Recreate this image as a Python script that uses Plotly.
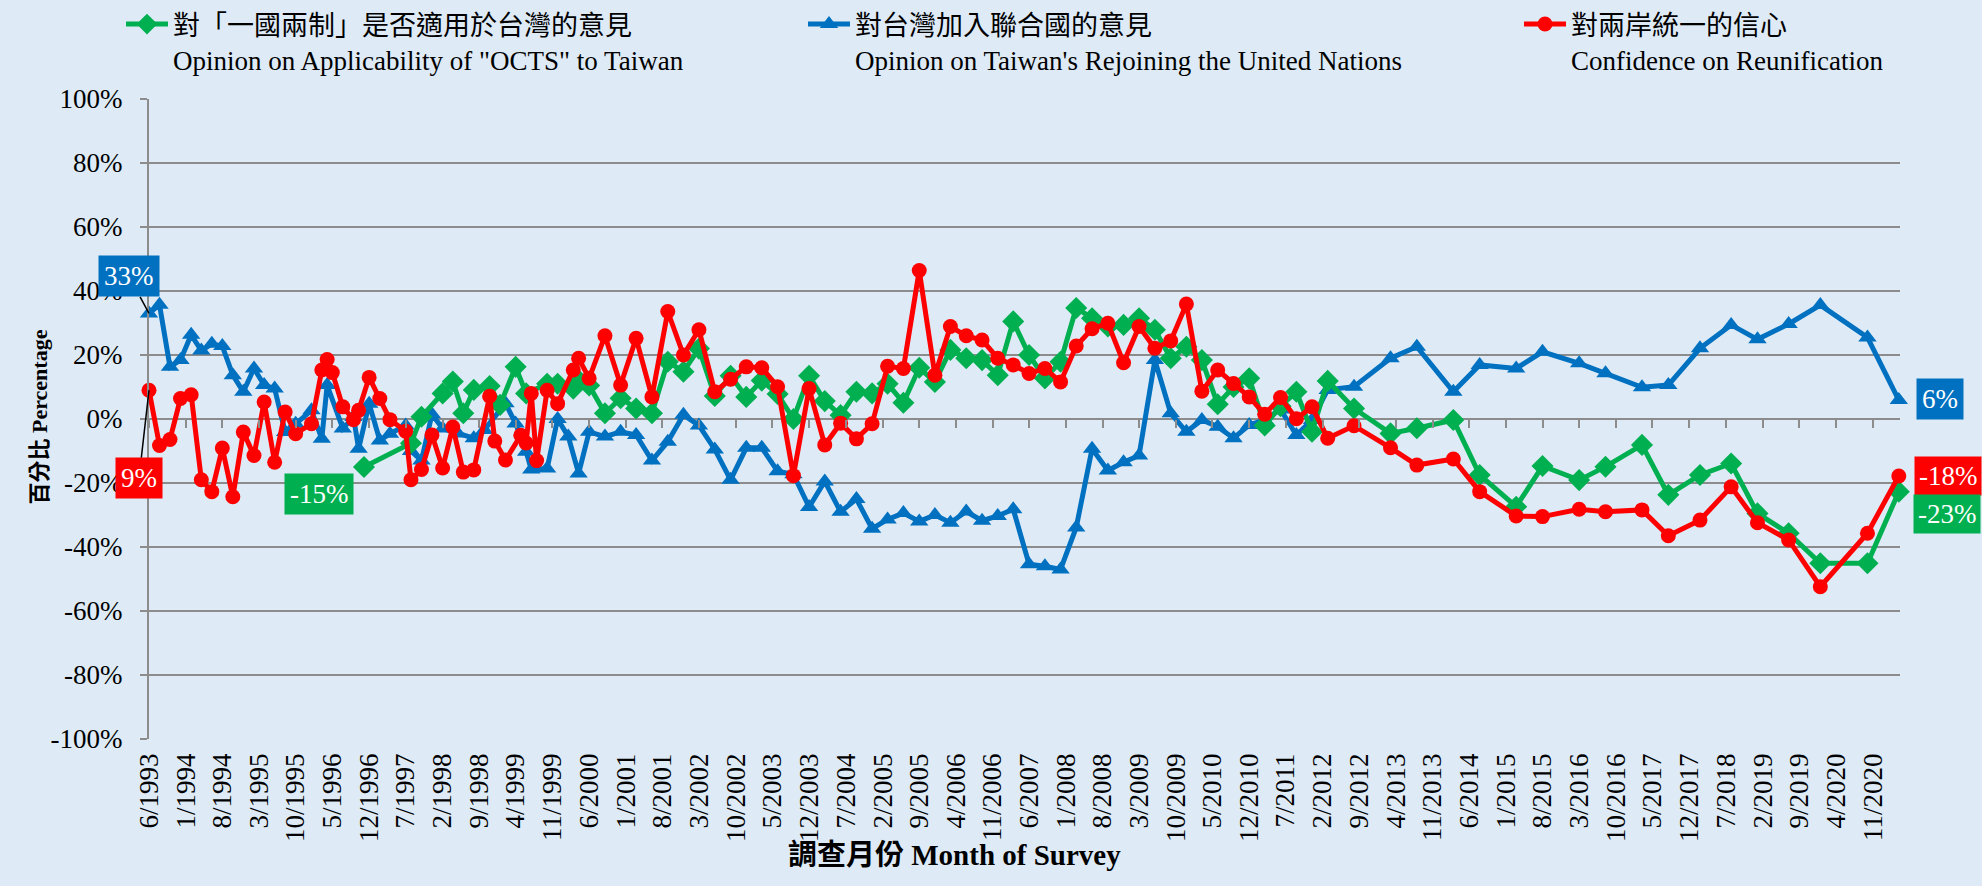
import plotly.graph_objects as go

# ---------------- data ----------------
green_dates = ["1996-11", "1997-08", "1997-10", "1998-02", "1998-04", "1998-06", "1998-08", "1998-11",
               "1999-01", "1999-04", "1999-06", "1999-10", "1999-12", "2000-03", "2000-04",
               "2000-06", "2000-09", "2000-12", "2001-03", "2001-06", "2001-09", "2001-12", "2002-03",
               "2002-06", "2002-09", "2002-12", "2003-03", "2003-06", "2003-09", "2003-12", "2004-03",
               "2004-06", "2004-09", "2004-12", "2005-03", "2005-06", "2005-09", "2005-12", "2006-03",
               "2006-06", "2006-09", "2006-12", "2007-03", "2007-06", "2007-09", "2007-12", "2008-03",
               "2008-06", "2008-09", "2008-12", "2009-03", "2009-06", "2009-09", "2009-12", "2010-03",
               "2010-06", "2010-09", "2010-12", "2011-03", "2011-06", "2011-09", "2011-12", "2012-03",
               "2012-08", "2013-03", "2013-08", "2014-03", "2014-08", "2015-03", "2015-08", "2016-03",
               "2016-08", "2017-03", "2017-08", "2018-02", "2018-08", "2019-01", "2019-07", "2020-01",
               "2020-10", "2021-04"]
green_vals = [-15, -7.6, 0.7, 8, 11.7, 1.8, 9.1, 10.3,
              4.4, 16.3, 8, 11, 11, 9.5, 12.1,
              10.5, 1.8, 6.5, 3.3, 1.8, 17.9, 14.8, 22,
              7.2, 13.5, 6.9, 12, 7.8, 0, 13.5, 5.6,
              1.2, 8.5, 8, 11, 5.1, 16, 11.6, 21.6,
              19, 18.4, 13.7, 30.5, 20, 12.7, 17.9, 34.7,
              31.5, 28.9, 29.4, 31.5, 27.9, 19, 22.6, 18.4,
              4.6, 10, 12.7, -2, 4, 8.5, -4, 11.9,
              3.3, -4.5, -2.9, -0.3, -17.5, -27.4, -14.7, -19.1,
              -14.9, -8.1, -23.7, -17.5, -13.9, -29.5, -35.7, -45.1,
              -45.1, -22.7]

blue_dates = ["1993-06", "1993-08", "1993-10", "1993-12", "1994-02", "1994-04", "1994-06", "1994-08",
              "1994-10", "1994-12", "1995-02", "1995-04", "1995-06", "1995-08", "1995-10", "1996-01",
              "1996-03", "1996-04", "1996-07", "1996-09", "1996-10", "1996-12", "1997-02", "1997-04",
              "1997-07", "1997-08", "1997-10", "1997-12", "1998-02", "1998-05", "1998-08", "1998-10",
              "1999-02", "1999-04", "1999-06", "1999-07", "1999-10", "1999-12", "2000-02",
              "2000-04", "2000-06", "2000-09", "2000-12", "2001-03", "2001-06", "2001-09", "2001-12",
              "2002-03", "2002-06", "2002-09", "2002-12", "2003-03", "2003-06", "2003-09", "2003-12",
              "2004-03", "2004-06", "2004-09", "2004-12", "2005-03", "2005-06", "2005-09", "2005-12",
              "2006-03", "2006-06", "2006-09", "2006-12", "2007-03", "2007-06", "2007-09", "2007-12",
              "2008-03", "2008-06", "2008-09", "2008-12", "2009-03", "2009-06", "2009-09", "2009-12",
              "2010-03", "2010-06", "2010-09", "2010-12", "2011-03", "2011-06", "2011-09", "2011-12",
              "2012-03", "2012-08", "2013-03", "2013-08", "2014-03", "2014-08", "2015-03", "2015-08",
              "2016-03", "2016-08", "2017-03", "2017-08", "2018-02", "2018-08", "2019-01", "2019-07",
              "2020-01", "2020-10", "2021-04"]
blue_vals = [33, 35.7, 16.3, 18.4, 26.3, 21.4, 23.5, 22.8,
             13.7, 8.5, 15.8, 10.6, 9.5, -4.1, -1.5, 2.7,
             -6.2, 10.6, -3, 0.6, -9.3, 4.8, -6.7, -4.6,
             -2, -10, -13, 1.5, -3, -4.5, -6, -3.4,
             4.9, -1.4, -10.2, -15.8, -15.5, 0, -5.5,
             -17, -4, -5.5, -4, -5, -13, -7.1, 1.3,
             -2, -9.5, -19, -9, -9, -16.3, -17.3, -27.5,
             -19.5, -29, -25, -34.3, -31.4, -29.4, -32, -30,
             -32.4, -28.9, -31.8, -30.3, -28.2, -45.4, -46, -47,
             -33.9, -9.3, -16.1, -13.5, -11.4, 18.4, 1.8, -4,
             -0.3, -2.4, -6, -1.9, -0.3, 3, -5, -0.3,
             9.1, 10.1, 19, 22.6, 8.5, 16.9, 15.8, 21,
             17.4, 14.3, 9.9, 10.6, 22.1, 29.4, 24.9, 29.7,
             35.6, 25.5, 5.9]

red_dates = ["1993-06", "1993-08", "1993-10", "1993-12", "1994-02", "1994-04", "1994-06", "1994-08",
             "1994-10", "1994-12", "1995-02", "1995-04", "1995-06", "1995-08", "1995-10", "1996-01",
             "1996-03", "1996-04", "1996-05", "1996-07", "1996-09", "1996-10", "1996-12", "1997-02",
             "1997-04", "1997-07", "1997-08", "1997-10", "1997-12", "1998-02", "1998-04", "1998-06",
             "1998-08", "1998-11", "1998-12", "1999-02", "1999-05", "1999-06", "1999-07", "1999-08",
             "1999-10", "1999-12", "2000-03", "2000-04", "2000-06", "2000-09", "2000-12", "2001-03",
             "2001-06", "2001-09", "2001-12", "2002-03", "2002-06", "2002-09", "2002-12", "2003-03",
             "2003-06", "2003-09", "2003-12", "2004-03", "2004-06", "2004-09", "2004-12", "2005-03",
             "2005-06", "2005-09", "2005-12", "2006-03", "2006-06", "2006-09", "2006-12", "2007-03",
             "2007-06", "2007-09", "2007-12", "2008-03", "2008-06", "2008-09", "2008-12", "2009-03",
             "2009-06", "2009-09", "2009-12", "2010-03", "2010-06", "2010-09", "2010-12", "2011-03",
             "2011-06", "2011-09", "2011-12", "2012-03", "2012-08", "2013-03", "2013-08", "2014-03",
             "2014-08", "2015-03", "2015-08", "2016-03", "2016-08", "2017-03", "2017-08", "2018-02",
             "2018-08", "2019-01", "2019-07", "2020-01", "2020-10", "2021-04"]
red_vals = [9, -8.3, -6.4, 6.4, 7.6, -19, -22.7, -9.1,
            -24.3, -4.1, -11.4, 5.3, -13.5, 2.2, -4.6, -1.5,
            15.3, 18.6, 14.5, 3.8, -0.2, 2.7, 13, 6.4,
            -0.2, -3.8, -19, -15.8, -5, -15.3, -2.5, -16.6,
            -15.9, 7.1, -6.9, -12.8, -5.1, -7.5, 8, -13,
            9, 4.8, 15.3, 19, 12.7, 26, 10.6, 25.2,
            6.9, 33.6, 20, 27.9, 8.5, 12.4, 16.3, 16,
            10.1, -17.7, 9.5, -8.1, -1.3, -6.2, -1.5, 16.5,
            15.8, 46.4, 13.7, 28.9, 26, 24.7, 19, 16.9,
            14.2, 15.8, 11.6, 22.8, 28.2, 29.9, 17.6, 28.9,
            22.1, 24.4, 35.9, 8.7, 15.3, 11.1, 6.9, 1.5,
            6.7, 0.1, 3.8, -6, -2.1, -9, -14.4, -12.5,
            -22.7, -30.3, -30.5, -28.2, -29, -28.4, -36.5, -31.6,
            -21.2, -32.4, -37.8, -52.4, -35.7, -17.8]

tick_labels = ["6/1993", "1/1994", "8/1994", "3/1995", "10/1995", "5/1996", "12/1996", "7/1997",
               "2/1998", "9/1998", "4/1999", "11/1999", "6/2000", "1/2001", "8/2001", "3/2002",
               "10/2002", "5/2003", "12/2003", "7/2004", "2/2005", "9/2005", "4/2006", "11/2006",
               "6/2007", "1/2008", "8/2008", "3/2009", "10/2009", "5/2010", "12/2010", "7/2011",
               "2/2012", "9/2012", "4/2013", "11/2013", "6/2014", "1/2015", "8/2015", "3/2016",
               "10/2016", "5/2017", "12/2017", "7/2018", "2/2019", "9/2019", "4/2020", "11/2020"]

y_ticks = [-100, -80, -60, -40, -20, 0, 20, 40, 60, 80, 100]

names = ["對「一國兩制」是否適用於台灣的意見<br>Opinion on Applicability of \"OCTS\" to Taiwan",
         "對台灣加入聯合國的意見<br>Opinion on Taiwan's Rejoining the United Nations",
         "對兩岸統一的信心<br>Confidence on Reunification"]

# ---------------- styling ----------------
GREEN, BLUE, RED = "#00B050", "#0070C0", "#FF0000"
BG = "#DEEBF7"
GRID = "#8C8C8C"
FONT = "Liberation Serif, 'Times New Roman', 'Noto Sans CJK TC', serif"

W, H = 1982, 886
ML, MR, MT, MB = 149, 82, 99, 147
PW, PH = W - ML - MR, H - MT - MB


def px_x(px):  # pixel column -> paper x
    return (px - ML) / PW


def px_y(py):  # pixel row -> paper y
    return (H - MB - py) / PH


def tick_date(lbl):
    m, y = lbl.split("/")
    return f"{y}-{int(m):02d}-01"


tick_vals = [tick_date(t) for t in tick_labels]
x_range = ["1993-06-01", "2021-04-08"]

fig = go.Figure()

fig.add_trace(go.Scatter(
    x=blue_dates, y=blue_vals, name=names[1], legend="legend2",
    mode="lines+markers", cliponaxis=False,
    line=dict(color=BLUE, width=5),
    marker=dict(symbol="triangle-up", size=16, color=BLUE)))
fig.add_trace(go.Scatter(
    x=green_dates, y=green_vals, name=names[0], legend="legend",
    mode="lines+markers", cliponaxis=False,
    line=dict(color=GREEN, width=5),
    marker=dict(symbol="diamond", size=17, color=GREEN)))
fig.add_trace(go.Scatter(
    x=red_dates, y=red_vals, name=names[2], legend="legend3",
    mode="lines+markers", cliponaxis=False,
    line=dict(color=RED, width=5),
    marker=dict(symbol="circle", size=15, color=RED)))
# helper trace so the tick-mark axis at 0% is drawn
fig.add_trace(go.Scatter(x=[x_range[0]], y=[None], xaxis="x2", yaxis="y",
                         showlegend=False, hoverinfo="skip"))

legend_common = dict(xref="paper", yref="paper", xanchor="left", yanchor="top",
                     y=px_y(0), bgcolor="rgba(0,0,0,0)", valign="top", itemwidth=42,
                     font=dict(family=FONT, size=27, color="black"), tracegroupgap=0)

fig.update_layout(
    width=W, height=H,
    paper_bgcolor=BG, plot_bgcolor=BG,
    margin=dict(l=ML, r=MR, t=MT, b=MB, autoexpand=False),
    font=dict(family=FONT, color="black"),
    hovermode=False,
    legend=dict(legend_common, x=px_x(121)),
    legend2=dict(legend_common, x=px_x(803)),
    legend3=dict(legend_common, x=px_x(1519)),
    xaxis=dict(type="date", range=x_range, tickvals=tick_vals, ticktext=tick_labels,
               tickangle=-90, ticks="", showgrid=False, showline=False, zeroline=False,
               tickfont=dict(family=FONT, size=27, color="black"), ticklabelstandoff=8),
    xaxis2=dict(type="date", range=x_range, overlaying="x", anchor="free", position=0.5,
                tickvals=tick_vals, ticks="outside", ticklen=8, tickwidth=2, tickcolor=GRID,
                showticklabels=False, showgrid=False, showline=False, zeroline=False),
    yaxis=dict(range=[-100, 100], tickvals=y_ticks, ticktext=[f"{v}%" for v in y_ticks],
               showgrid=True, gridcolor=GRID, gridwidth=2, zeroline=False,
               showline=True, linecolor=GRID, linewidth=2,
               ticks="outside", ticklen=7, tickwidth=2, tickcolor=GRID,
               tickfont=dict(family=FONT, size=27, color="black"), ticklabelstandoff=12),
)

# axis titles
fig.add_annotation(text="<b>調查月份 Month of Survey</b>", xref="paper", yref="paper",
                   x=px_x(954), y=px_y(873), showarrow=False,
                   font=dict(family=FONT, size=29, color="black"))
fig.add_annotation(text="<b>百分比 Percentage</b>", xref="paper", yref="paper",
                   x=px_x(24), y=px_y(417), showarrow=False, textangle=-90,
                   font=dict(family=FONT, size=22, color="black"))

# data labels
def lab(v):
    return f"{round(v):d}%"

box_font = dict(family=FONT, size=27, color="white")
fig.add_annotation(x=blue_dates[0], y=blue_vals[0], text=lab(blue_vals[0]), showarrow=True,
                   arrowhead=0, arrowwidth=1.5, arrowcolor="black", ax=-20, ay=-37,
                   bgcolor=BLUE, font=box_font, borderpad=5)
fig.add_annotation(x=red_dates[0], y=red_vals[0], text=lab(red_vals[0]), showarrow=True,
                   arrowhead=0, arrowwidth=1.5, arrowcolor="black", ax=-10, ay=88,
                   bgcolor=RED, font=box_font, borderpad=5)
fig.add_annotation(x=green_dates[0], y=green_vals[0], text=lab(green_vals[0]), showarrow=False,
                   xshift=-45, yshift=-27, bgcolor=GREEN, font=box_font, borderpad=5)
fig.add_annotation(x=blue_dates[-1], y=blue_vals[-1], text=lab(blue_vals[-1]), showarrow=False,
                   xshift=41, yshift=1, bgcolor=BLUE, font=box_font, borderpad=5)
fig.add_annotation(x=red_dates[-1], y=red_vals[-1], text=lab(red_vals[-1]), showarrow=False,
                   xshift=49, yshift=0, bgcolor=RED, font=box_font, borderpad=4)
fig.add_annotation(x=green_dates[-1], y=green_vals[-1], text=lab(green_vals[-1]), showarrow=False,
                   xshift=48, yshift=-22, bgcolor=GREEN, font=box_font, borderpad=4)

fig.write_html("out.html", config={"displayModeBar": False},
               post_script="document.body.style.margin='0';")
